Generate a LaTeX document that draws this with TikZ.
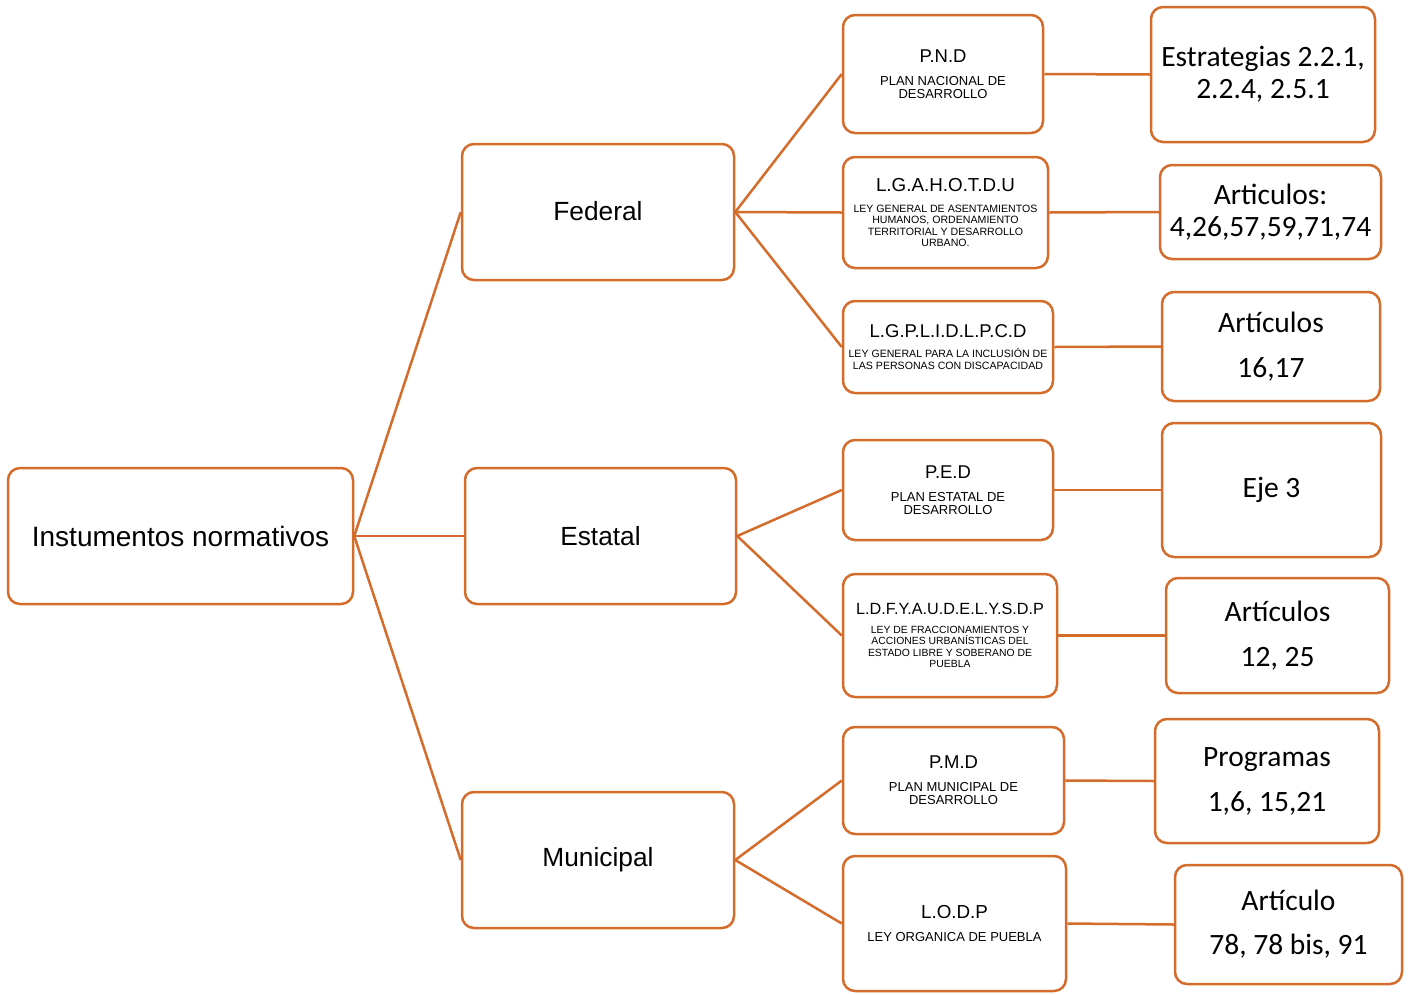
\documentclass[tikz,border=0pt]{standalone}
\usepackage{fontspec}
\setmainfont{Liberation Sans}
\newfontfamily\calib{Carlito}
\definecolor{orangeline}{RGB}{212,108,44}

\begin{document}
\begin{tikzpicture}[x=1pt,y=-1pt,
  box/.style={draw=orangeline,line width=2.5pt,rounded corners=12pt,inner sep=0pt,align=center,fill=white},
  mid/.style={box,font=\fontsize{13}{13}\selectfont},
  lev/.style={box,font=\calib\fontsize{29.5}{32}\selectfont},
  link/.style={draw=orangeline,line width=2.5pt}]
\useasboundingbox[fill=white] (0,0) rectangle (1408,994);
% levels of government
\node[box,minimum width=345pt,minimum height=136pt,font=\fontsize{28}{30}\selectfont] (inst) at (180.5,536) {Instumentos normativos};
\node[box,minimum width=272pt,minimum height=136pt,font=\fontsize{26.3}{30}\selectfont] (fed) at (598,212) {\raisebox{2pt}{Federal}};
\node[box,minimum width=271pt,minimum height=136pt,font=\fontsize{26.3}{30}\selectfont] (est) at (600.5,536) {\raisebox{1pt}{Estatal}};
\node[box,minimum width=272pt,minimum height=136pt,font=\fontsize{26.3}{30}\selectfont] (mun) at (598,860) {Municipal};
% plans and laws
\node[mid,minimum width=200pt,minimum height=118pt] (pnd) at (943,74) {{\fontsize{18.5}{18}\selectfont P.N.D}\\[10pt]PLAN NACIONAL DE\\DESARROLLO};
\node[mid,minimum width=205pt,minimum height=111pt,font=\fontsize{10.6}{11.3}\selectfont] (lga) at (945.5,212.5) {{\fontsize{18.8}{18}\selectfont L.G.A.H.O.T.D.U}\\[9.7pt]LEY GENERAL DE ASENTAMIENTOS\\HUMANOS, ORDENAMIENTO\\TERRITORIAL Y DESARROLLO\\URBANO.};
\node[mid,minimum width=210pt,minimum height=92pt,font=\fontsize{10.6}{12}\selectfont] (lgp) at (948,347) {{\fontsize{18.5}{18}\selectfont L.G.P.L.I.D.L.P.C.D}\\[8.3pt]LEY GENERAL PARA LA INCLUSIÓN DE\\LAS PERSONAS CON DISCAPACIDAD};
\node[mid,minimum width=210pt,minimum height=100pt] (ped) at (948,490) {{\fontsize{18.5}{18}\selectfont P.E.D}\\[10pt]PLAN ESTATAL DE\\DESARROLLO};
\node[mid,minimum width=214pt,minimum height=123pt,font=\fontsize{10.4}{11.3}\selectfont] (ldf) at (950,635.5) {{\fontsize{16.2}{16}\selectfont L.D.F.Y.A.U.D.E.L.Y.S.D.P}\\[7.7pt]LEY DE FRACCIONAMIENTOS Y\\ACCIONES URBANÍSTICAS DEL\\ESTADO LIBRE Y SOBERANO DE\\PUEBLA};
\node[mid,minimum width=221pt,minimum height=107pt] (pmd) at (953.5,780.5) {{\fontsize{18.5}{18}\selectfont P.M.D}\\[10pt]PLAN MUNICIPAL DE\\DESARROLLO};
\node[mid,minimum width=223pt,minimum height=135pt] (lod) at (954.5,923.5) {{\fontsize{18.8}{18.5}\selectfont L.O.D.P}\\[9.3pt]LEY ORGANICA DE PUEBLA};
% articles
\node[lev,minimum width=224pt,minimum height=135pt] (estr) at (1263,74.5) {Estrategias 2.2.1,\\2.2.4, 2.5.1};
\node[lev,minimum width=221pt,minimum height=94pt] (art1) at (1270.5,212) {Articulos:\\4,26,57,59,71,74};
\node[lev,minimum width=218pt,minimum height=109pt,font=\calib\fontsize{29.5}{45}\selectfont] (art2) at (1271,346.5) {Artículos\\16,17};
\node[lev,minimum width=219pt,minimum height=134pt] (eje) at (1271.5,490) {Eje 3};
\node[lev,minimum width=223pt,minimum height=115pt,font=\calib\fontsize{29.5}{45}\selectfont] (art3) at (1277.5,635.5) {Artículos\\12, 25};
\node[lev,minimum width=224pt,minimum height=124pt,font=\calib\fontsize{29.5}{45}\selectfont] (prog) at (1267,781) {Programas\\1,6, 15,21};
\node[lev,minimum width=227pt,minimum height=119pt,font=\calib\fontsize{29.5}{44}\selectfont] (art4) at (1288.5,924.5) {Artículo\\78, 78 bis, 91};
% connectors
\draw[link] (inst.east) -- (fed.west);
\draw[link] (inst.east) -- (est.west);
\draw[link] (inst.east) -- (mun.west);
\draw[link] (fed.east) -- (pnd.west);
\draw[link] (fed.east) -- (lga.west);
\draw[link] (fed.east) -- (lgp.west);
\draw[link] (est.east) -- (ped.west);
\draw[link] (est.east) -- (ldf.west);
\draw[link] (mun.east) -- (pmd.west);
\draw[link] (mun.east) -- (lod.west);
\draw[link] (pnd.east) -- (estr.west);
\draw[link] (lga.east) -- (art1.west);
\draw[link] (lgp.east) -- (art2.west);
\draw[link] (ped.east) -- (eje.west);
\draw[link] (ldf.east) -- (art3.west);
\draw[link] (pmd.east) -- (prog.west);
\draw[link] (lod.east) -- (art4.west);
\end{tikzpicture}
\end{document}
